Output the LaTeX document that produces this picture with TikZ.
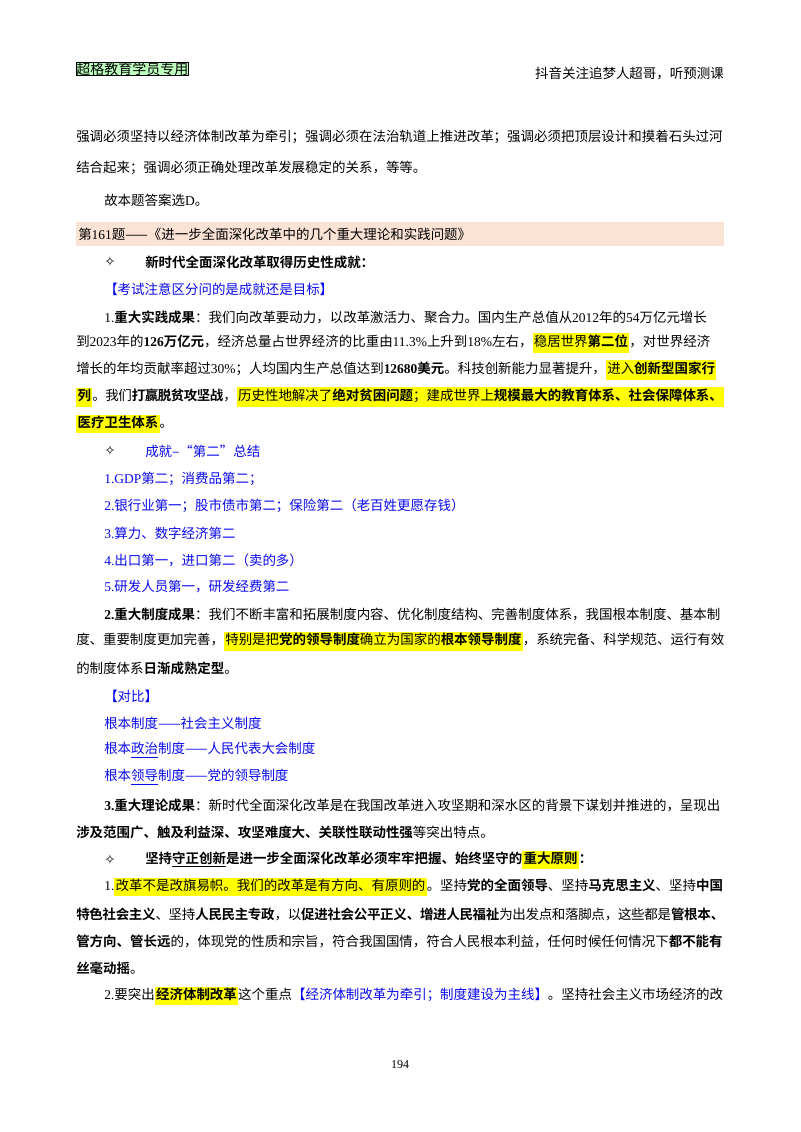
\documentclass[tikz,border=0pt]{standalone}
\usepackage{fontspec}
\setmainfont{Noto Sans CJK SC}[BoldFont={Noto Sans CJK SC Bold}]
\newfontfamily\latinf{Liberation Serif}
\newfontfamily\symf{DejaVu Sans}
\definecolor{myblue}{RGB}{10,10,240}
\definecolor{bandpink}{RGB}{250,226,212}
\definecolor{hly}{RGB}{255,255,0}
\XeTeXlinebreaklocale "zh"
\XeTeXlinebreakskip=0pt plus 3pt minus 1pt
\hbadness=10000
\newcommand{\hlt}[1]{{\setlength{\fboxsep}{1pt}\colorbox{hly}{\strut #1}}}
\newcommand{\nm}[1]{{\latinf #1}}
\newcommand{\dia}{{\symf ✧}}
\tikzset{
 px/.style={x=0.75pt,y=-0.75pt},
 txt/.style={anchor=west,inner sep=0pt,font=\fontsize{10.1pt}{12pt}\selectfont},
 full/.style={txt,text width=486pt,align=justify},
 ind/.style={txt,text width=465pt,align=justify},
 blu/.style={txt,text=myblue}
}
\newcommand{\jl}[3]{\node[full] (#1) at (76,#2) {#3\par\parfillskip=0pt};}
\newcommand{\ji}[3]{\node[ind] (#1) at (104,#2) {#3\par\parfillskip=0pt};}
\begin{document}
\begin{tikzpicture}[px]
\useasboundingbox (0,0) rectangle (800,1132);
\fill[white] (0,0) rectangle (800,1132);
\node[draw,fill=green!25!white,inner sep=2pt,txt,font=\fontsize{10.5pt}{12pt}\selectfont] (hdl) at (76,69) {超格教育学员专用};
\node[txt,anchor=east] (hdr) at (724,74) {抖音关注追梦人超哥，听预测课};
\jl{l1}{137}{强调必须坚持以经济体制改革为牵引；强调必须在法治轨道上推进改革；强调必须把顶层设计和摸着石头过河}
\node[txt] (l2) at (76,168) {结合起来；强调必须正确处理改革发展稳定的关系，等等。};
\node[txt] (l3) at (104,200) {故本题答案选\nm{D}。};
\fill[bandpink] (76,222) rectangle (724,246);
\node[txt] (l4) at (78,234) {第\nm{161}题——《进一步全面深化改革中的几个重大理论和实践问题》};
\node[txt] (s1) at (104,262) {\dia};
\node[txt] (l5) at (145,262) {\textbf{新时代全面深化改革取得历史性成就：}};
\node[blu] (l6) at (104,289) {【考试注意区分问的是成就还是目标】};
\ji{l7}{317}{\nm{1.}\textbf{重大实践成果}：我们向改革要动力，以改革激活力、聚合力。国内生产总值从\nm{2012}年的\nm{54}万亿元增长}
\jl{l8}{343}{到\nm{2023}年的\textbf{\nm{126}万亿元}，经济总量占世界经济的比重由\nm{11.3\%}上升到\nm{18\%}左右，\hlt{稳居世界\textbf{第二位}}，对世界经济}
\jl{l9}{370}{增长的年均贡献率超过\nm{30\%}；人均国内生产总值达到\textbf{\nm{12680}美元}。科技创新能力显著提升，\hlt{进入\textbf{创新型国家行}}}
\jl{l10}{397}{\hlt{\textbf{列}}。我们\textbf{打赢脱贫攻坚战}，\hlt{历史性地解决了\textbf{绝对贫困问题}；建成世界上\textbf{规模最大的教育体系、社会保障体系、}}}
\node[txt] (l11) at (76,424) {\hlt{\textbf{医疗卫生体系}}。};
\node[txt] (s2) at (104,451) {\dia};
\node[blu] (l12) at (145,451) {成就–“第二”总结};
\node[blu] (b1) at (104,479) {\nm{1.GDP}第二；消费品第二；};
\node[blu] (b2) at (104,506) {\nm{2.}银行业第一；股市债市第二；保险第二（老百姓更愿存钱）};
\node[blu] (b3) at (104,533) {\nm{3.}算力、数字经济第二};
\node[blu] (b4) at (104,560) {\nm{4.}出口第一，进口第二（卖的多）};
\node[blu] (b5) at (104,587) {\nm{5.}研发人员第一，研发经费第二};
\ji{l13}{614}{\textbf{\nm{2.}重大制度成果}：我们不断丰富和拓展制度内容、优化制度结构、完善制度体系，我国根本制度、基本制}
\jl{l14}{641}{度、重要制度更加完善，\hlt{特别是把\textbf{党的领导制度}确立为国家的\textbf{根本领导制度}}，系统完备、科学规范、运行有效}
\node[txt] (l15) at (76,668) {的制度体系\textbf{日渐成熟定型}。};
\node[blu] (c0) at (104,696) {【对比】};
\node[blu] (c1) at (104,723) {根本制度——社会主义制度};
\node[blu] (c2) at (104,750) {根本\underline{政治}制度——人民代表大会制度};
\node[blu] (c3) at (104,777) {根本\underline{领导}制度——党的领导制度};
\ji{l16}{805}{\textbf{\nm{3.}重大理论成果}：新时代全面深化改革是在我国改革进入攻坚期和深水区的背景下谋划并推进的，呈现出}
\node[txt] (l17) at (76,832) {\textbf{涉及范围广、触及利益深、攻坚难度大、关联性联动性强}等突出特点。};
\node[txt] (s3) at (104,860) {\dia};
\node[txt] (l18) at (145,860) {\textbf{坚持\underline{守正创新}是进一步全面深化改革必须牢牢把握、始终坚守的\hlt{重大原则}：}};
\ji{l19}{887}{\nm{1.}\hlt{改革不是改旗易帜。我们的改革是有方向、有原则的}。坚持\textbf{党的全面领导}、坚持\textbf{马克思主义}、坚持\textbf{中国}}
\jl{l20}{914}{\textbf{特色社会主义}、坚持\textbf{人民民主专政}，以\textbf{促进社会公平正义、增进人民福祉}为出发点和落脚点，这些都是\textbf{管根本、}}
\jl{l21}{941}{\textbf{管方向、管长远}的，体现党的性质和宗旨，符合我国国情，符合人民根本利益，任何时候任何情况下\textbf{都不能有}}
\node[txt] (l22) at (76,968) {\textbf{丝毫动摇}。};
\ji{l23}{996}{\nm{2.}要突出\hlt{\textbf{经济体制改革}}这个重点\textcolor{myblue}{【经济体制改革为牵引；制度建设为主线】}。坚持社会主义市场经济的改}
\node[txt,anchor=center,font=\fontsize{9pt}{10pt}\latinf] (pg) at (400,1065) {194};
\end{tikzpicture}
\end{document}
